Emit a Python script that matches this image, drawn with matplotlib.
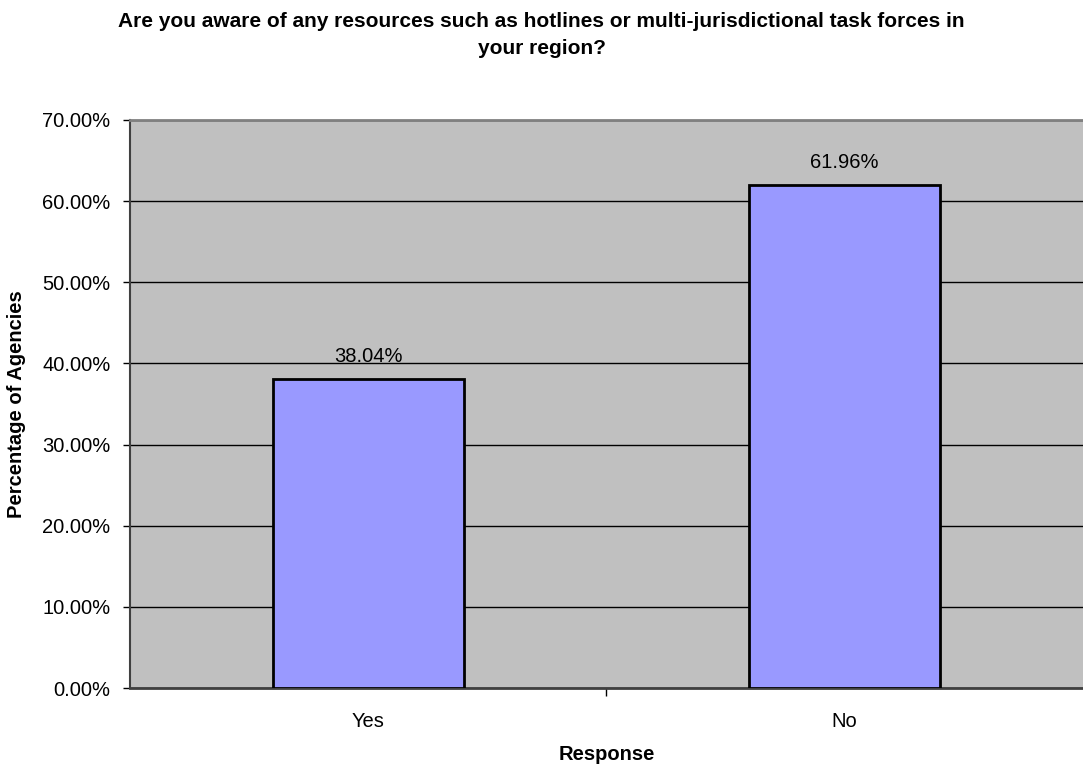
import matplotlib
matplotlib.use("Agg")
import matplotlib.pyplot as plt
from matplotlib.ticker import FuncFormatter, FixedLocator

# ===== DATA =====
responses = ["Yes", "No"]
percentages = [38.04, 61.96]
y_ticks = [0, 10, 20, 30, 40, 50, 60, 70]

plt.rcParams["font.family"] = ["Liberation Sans", "DejaVu Sans"]

fig = plt.figure(figsize=(10.83, 7.69), dpi=100)
ax = fig.add_axes([0.12, 0.1053, 0.88, 0.7387])

x = range(len(responses))
ax.set_facecolor("#C0C0C0")
ax.set_axisbelow(True)
ax.yaxis.grid(True, color="black", linewidth=1)

bars = ax.bar(x, percentages, width=0.4, color="#9999FF",
              edgecolor="black", linewidth=2, zorder=3)

for xi, v in zip(x, percentages):
    ax.text(xi, v + 2.8, f"{v:.2f}%", ha="center", va="center", fontsize=14.5)

ax.set_xlim(-0.5, len(responses) - 0.5)
ax.set_ylim(0, 70)
ax.set_yticks(y_ticks)
ax.yaxis.set_major_formatter(FuncFormatter(lambda v, p: f"{v:.2f}%"))

# category labels centered, tick marks between categories
ax.set_xticks(list(x))
ax.set_xticklabels(responses, fontsize=14.5)
ax.tick_params(axis="x", which="major", length=0, pad=17)
ax.xaxis.set_minor_locator(FixedLocator([0.5]))
ax.tick_params(axis="x", which="minor", length=6, width=1, color="black")
ax.tick_params(axis="y", length=5, width=1, labelsize=14.5, pad=9)

ax.spines["top"].set_color("#808080")
ax.spines["top"].set_linewidth(2)
ax.spines["right"].set_visible(False)
ax.spines["left"].set_color("#404040")
ax.spines["left"].set_linewidth(1.5)
ax.spines["bottom"].set_color("#404040")
ax.spines["bottom"].set_linewidth(2)

ax.set_xlabel("Response", fontsize=14.5, fontweight="bold", labelpad=10)
fig.text(17 / 1083, 1 - 404 / 769, "Percentage of Agencies", rotation=90,
         ha="center", va="center", fontsize=14.5, fontweight="bold")

fig.text(0.5, 0.954,
         "Are you aware of any resources such as hotlines or multi-jurisdictional task forces in\nyour region?",
         ha="center", va="center", fontsize=15, fontweight="bold", linespacing=1.55)

fig.savefig("out.png", dpi=100)
